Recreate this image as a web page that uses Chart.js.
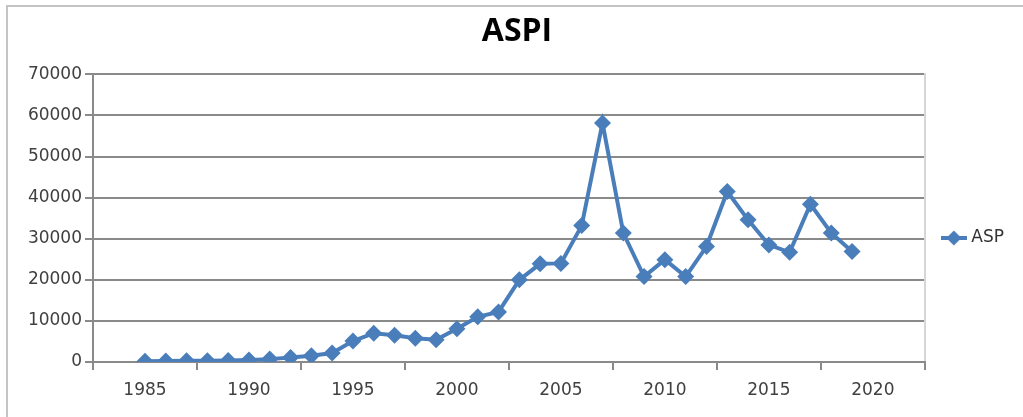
<!DOCTYPE html>
<html lang="en">
<head>
<meta charset="UTF-8" />
<title>ASPI</title>
<style>
  html, body {
    margin: 0;
    padding: 0;
    background: #ffffff;
    overflow: hidden;
    width: 1023px;
    height: 417px;
  }
  .frame {
    position: absolute;
    left: 6px;
    top: 5px;
    width: 1017px;
    height: 412px;
    border-top: 2px solid #c4c4c4;
    border-left: 2px solid #c4c4c4;
    box-sizing: border-box;
  }
  .wrap {
    position: absolute;
    left: 0;
    top: 0;
    width: 1023px;
    height: 417px;
  }
</style>
</head>
<body>
<div class="frame"></div>
<div class="wrap"><canvas id="chart"></canvas></div>

<script src="https://cdn.jsdelivr.net/npm/chart.js"></script>
<script>
  // values
  const years = [1985, 1986, 1987, 1988, 1989, 1990, 1991, 1992, 1993, 1994,
                 1995, 1996, 1997, 1998, 1999, 2000, 2001, 2002, 2003, 2004,
                 2005, 2006, 2007, 2008, 2009, 2010, 2011, 2012, 2013, 2014,
                 2015, 2016, 2017, 2018, 2019];
  const asp = [200, 250, 300, 300, 350, 500, 700, 1100, 1500, 2200,
               5100, 7000, 6500, 5800, 5400, 8100, 11000, 12200, 20000, 23900,
               24000, 33200, 58200, 31400, 20800, 24900, 20800, 28100, 41500, 34600,
               28500, 26700, 38400, 31400, 26900];
  const yearLabels = [1985, 1990, 1995, 2000, 2005, 2010, 2015, 2020];
  const tickMarks = [1982.5, 1987.5, 1992.5, 1997.5, 2002.5, 2007.5, 2012.5, 2017.5, 2022.5];
  const yTicks = [0, 10000, 20000, 30000, 40000, 50000, 60000, 70000];

  const blue = '#4a7ebb';
  const axisGray = '#8a8a8a';
  const labelColor = '#404040';
  const tickFont = { family: 'DejaVu Sans', size: 17 };

  // legend symbol: short line with a diamond on it
  const legendMark = document.createElement('canvas');
  legendMark.width = 26;
  legendMark.height = 18;
  (function () {
    const c = legendMark.getContext('2d');
    c.strokeStyle = blue;
    c.lineWidth = 4;
    c.beginPath();
    c.moveTo(0, 9);
    c.lineTo(26, 9);
    c.stroke();
    c.fillStyle = blue;
    c.beginPath();
    c.moveTo(13, 1.5);
    c.lineTo(20.5, 9);
    c.lineTo(13, 16.5);
    c.lineTo(5.5, 9);
    c.closePath();
    c.fill();
  })();

  const toTicks = arr => arr.map(v => ({ value: v }));

  new Chart(document.getElementById('chart'), {
    type: 'line',
    data: {
      datasets: [{
        label: 'ASP',
        data: years.map((yr, i) => ({ x: yr, y: asp[i] })),
        borderColor: blue,
        backgroundColor: blue,
        borderWidth: 4,
        pointStyle: 'rectRot',
        pointRadius: 8.5,
        pointBorderWidth: 0,
        pointBackgroundColor: blue,
        tension: 0,
        xAxisID: 'x',
        yAxisID: 'y'
      }]
    },
    options: {
      responsive: true,
      maintainAspectRatio: false,
      animation: false,
      // left padding only moves the title centre; y axis width makes up for it
      layout: { padding: { left: 20, right: 9, top: 0, bottom: 0 } },
      plugins: {
        title: {
          display: true,
          text: 'ASPI',
          color: '#000000',
          font: { family: 'Open Sans', size: 32, weight: 'bold', lineHeight: 1.2 },
          padding: { top: 13, bottom: 23 }
        },
        legend: {
          position: 'right',
          align: 'center',
          title: { display: true, text: ' ', padding: 0, font: { size: 59, lineHeight: 1 } },
          labels: {
            usePointStyle: true,
            pointStyle: legendMark,
            pointStyleWidth: 18,
            padding: 20,
            color: '#333333',
            font: tickFont
          }
        },
        tooltip: { enabled: false }
      },
      scales: {
        y: {
          min: 0,
          max: 70000,
          afterBuildTicks: s => { s.ticks = toTicks(yTicks); },
          afterFit: s => { s.width = 73; },
          ticks: { color: labelColor, font: tickFont, padding: 3, callback: v => String(v) },
          grid: { color: axisGray, lineWidth: 2, tickLength: 8 },
          border: { display: true, color: axisGray, width: 2 }
        },
        yr: {
          position: 'right',
          min: 0,
          max: 70000,
          ticks: { display: false },
          grid: { drawOnChartArea: false, drawTicks: false },
          border: { display: true, color: '#d6d6d6', width: 2 },
          afterFit: s => { s.width = 0; }
        },
        x: {
          type: 'linear',
          position: 'bottom',
          weight: 0,
          min: 1982.5,
          max: 2022.5,
          afterBuildTicks: s => { s.ticks = toTicks(tickMarks); },
          afterFit: s => { s.height = 8; },
          ticks: { display: false },
          grid: { drawOnChartArea: false, color: axisGray, lineWidth: 2, tickLength: 8 },
          border: { display: true, color: axisGray, width: 2 }
        },
        xl: {
          type: 'linear',
          position: 'bottom',
          weight: 1,
          min: 1982.5,
          max: 2022.5,
          afterBuildTicks: s => { s.ticks = toTicks(yearLabels); },
          afterFit: s => { s.height = 47; },
          ticks: { color: labelColor, font: tickFont, padding: 10, maxRotation: 0, autoSkip: false,
                   callback: v => String(v) },
          grid: { display: false, drawTicks: false },
          border: { display: false }
        }
      }
    }
  });
</script>
</body>
</html>
